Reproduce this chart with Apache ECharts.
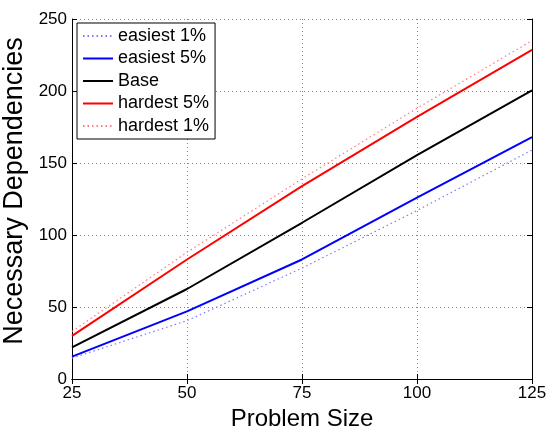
<!DOCTYPE html>
<html>
<head>
<meta charset="utf-8">
<script src="https://cdn.jsdelivr.net/npm/echarts@6/dist/echarts.min.js"></script>
<style>
	html, body { margin: 0; padding: 0; background: #fff; }
	#chart { width: 547px; height: 428px; }
</style>
</head>
<body>
<div id="chart"></div>
<script>
	var problemSize = [25, 50, 75, 100, 125];
	var easiest1 = [14.5, 40.5, 77, 117, 159];
	var easiest5 = [15.5, 47, 83, 126, 168];
	var base = [22, 62.5, 108.5, 155.5, 200.5];
	var hardest5 = [30, 83, 134, 182, 228.5];
	var hardest1 = [33, 88, 139, 188, 235];

	var FONT = "Liberation Sans";

	function pairs(ys) {
		return problemSize.map(function(x, i) { return [x, ys[i]]; });
	}

	function line(name, ys, color, type, width) {
		return {
			"name": name,
			"type": "line",
			"data": pairs(ys),
			"symbol": "none",
			"animation": false,
			"lineStyle": { "color": color, "width": width, "type": type },
			"itemStyle": { "color": color }
		};
	}

	var gridLine = { "show": true, "lineStyle": { "color": "#888", "type": [1, 3], "width": 1 } };

	var option = {
		"backgroundColor": "#fff",
		"textStyle": { "fontFamily": FONT },
		"grid": { "left": 72, "right": 15, "top": 19, "bottom": 49, "containLabel": false, "outerBoundsMode": "none" },
		"legend": {
			"orient": "vertical",
			"left": 77,
			"top": 23,
			"padding": [4, 6, 4, 5],
			"itemGap": 4.5,
			"itemWidth": 30,
			"itemHeight": 18,
			"borderColor": "#000",
			"borderWidth": 1,
			"backgroundColor": "#fff",
			"itemStyle": { "opacity": 0 },
			"textStyle": { "fontFamily": FONT, "fontSize": 18, "color": "#000" },
			"data": ["easiest 1%", "easiest 5%", "Base", "hardest 5%", "hardest 1%"]
		},
		"xAxis": [{
			"type": "value",
			"min": 25,
			"max": 125,
			"interval": 25,
			"name": "Problem Size",
			"nameLocation": "middle",
			"nameGap": 22,
			"nameTextStyle": { "fontFamily": FONT, "fontSize": 24, "color": "#000" },
			"axisLine": { "lineStyle": { "color": "#000", "width": 1 } },
			"axisTick": { "inside": true, "length": 5, "lineStyle": { "color": "#000" } },
			"axisLabel": { "fontFamily": FONT, "fontSize": 17, "color": "#000", "margin": 6 },
			"splitLine": gridLine
		}, {
			"type": "value",
			"position": "top",
			"min": 25,
			"max": 125,
			"interval": 25,
			"axisLine": { "show": true, "lineStyle": { "color": "#000", "width": 1 } },
			"axisTick": { "inside": true, "length": 5, "lineStyle": { "color": "#000" } },
			"axisLabel": { "show": false },
			"splitLine": { "show": false }
		}],
		"yAxis": [{
			"type": "value",
			"min": 0,
			"max": 250,
			"interval": 50,
			"name": "Necessary Dependencies",
			"nameLocation": "middle",
			"nameGap": 39,
			"nameTextStyle": { "fontFamily": FONT, "fontSize": 27, "color": "#000", "padding": [0, 0, 0, 16] },
			"axisLine": { "show": true, "lineStyle": { "color": "#000", "width": 1 } },
			"axisTick": { "show": true, "inside": true, "length": 5, "lineStyle": { "color": "#000" } },
			"axisLabel": { "fontFamily": FONT, "fontSize": 17, "color": "#000", "margin": 5 },
			"splitLine": gridLine
		}, {
			"type": "value",
			"position": "right",
			"min": 0,
			"max": 250,
			"interval": 50,
			"axisLine": { "show": true, "lineStyle": { "color": "#000", "width": 1 } },
			"axisTick": { "show": true, "inside": true, "length": 5, "lineStyle": { "color": "#000" } },
			"axisLabel": { "show": false },
			"splitLine": { "show": false }
		}],
		"series": [
			line("easiest 1%", easiest1, "#7b7bff", [1.5, 3], 1.2),
			line("easiest 5%", easiest5, "#0000ff", "solid", 2),
			line("Base", base, "#000000", "solid", 2),
			line("hardest 5%", hardest5, "#ff0000", "solid", 2),
			line("hardest 1%", hardest1, "#ff7b7b", [1.5, 3], 1.2)
		]
	};

	var chart = echarts.init(document.getElementById("chart"));
	chart.setOption(option);
</script>
</body>
</html>
